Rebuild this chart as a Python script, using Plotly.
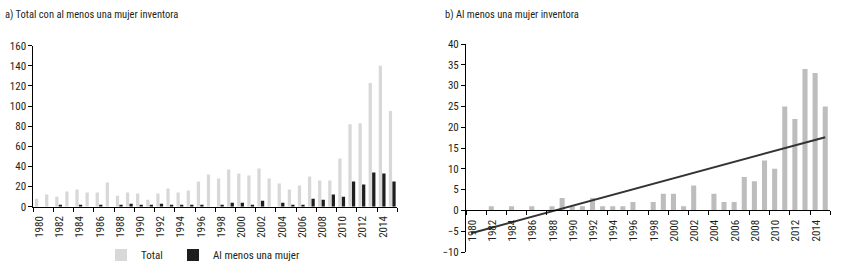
import numpy as np
import plotly.graph_objects as go

years = list(range(1980, 2016))
total = [8, 12, 10, 15, 17, 14, 14, 24, 11, 14, 13, 7, 13, 18, 14, 16, 25, 32,
         28, 37, 33, 31, 38, 28, 23, 17, 21, 30, 26, 26, 48, 82, 83, 123, 140, 95]
mujer = [0, 0, 1, 0, 1, 0, 1, 0, 1, 3, 1, 1, 3, 1, 1, 1, 2, 0,
         2, 4, 4, 1, 6, 0, 4, 2, 2, 8, 7, 12, 10, 25, 22, 34, 33, 25]
tick_years = list(range(1980, 2016, 2))
title_a = "a) Total con al menos una mujer inventora"
title_b = "b) Al menos una mujer inventora"
name_total = "Total"
name_mujer = "Al menos una mujer"

FONT = "Liberation Sans Narrow, Roboto Condensed, DejaVu Sans Condensed, Arial Narrow, sans-serif"
TXT = "#231f20"
W, H = 845, 267

# trend line (least squares) for panel b
coef = np.polyfit(np.arange(len(years)), mujer, 1)
trend = list(np.polyval(coef, np.arange(len(years))))

fig = go.Figure()
fig.add_trace(go.Bar(x=years, y=total, name=name_total, marker_color="#d8d8d8",
                     marker_line_width=0, xaxis="x", yaxis="y", legend="legend"))
fig.add_trace(go.Bar(x=years, y=mujer, name=name_mujer, marker_color="#1e1e1e",
                     marker_line_width=0, xaxis="x", yaxis="y", legend="legend2"))
fig.add_trace(go.Bar(x=years, y=mujer, showlegend=False, marker_color="#bdbdbd",
                     marker_line_width=0, xaxis="x2", yaxis="y2", offsetgroup="b",
                     width=0.5))
fig.add_trace(go.Scatter(x=years, y=trend, mode="lines", showlegend=False,
                         line=dict(color="#333333", width=2), xaxis="x2", yaxis="y2"))

def px_x(p):
    return p / W

def px_y(p):
    return 1 - p / H

bound_vals = [y - 0.5 for y in range(1980, 2017, 2)]
bound_text = [str(v) for v in tick_years] + [""]

common_x = dict(range=[1979.5, 2015.5], tickmode="array", tickvals=bound_vals,
                ticktext=bound_text, tickangle=-90, ticks="outside", ticklen=4,
                tickcolor="#000", showline=True, linecolor="#000", linewidth=1,
                showgrid=False, zeroline=False, ticklabelshift=6, automargin=False,
                tickfont=dict(family=FONT, size=11, color=TXT))
common_y = dict(ticks="outside", ticklen=4, tickcolor="#000", showline=True,
                linecolor="#000", linewidth=1, showgrid=False, zeroline=False,
                automargin=False,
                tickfont=dict(family=FONT, size=11, color=TXT))

yb_lo, yb_hi = px_y(252), px_y(44)
x2_pos = yb_lo + (0 - (-10)) / 50 * (yb_hi - yb_lo)

leg_common = dict(orientation="h", yanchor="middle", xanchor="left",
                  font=dict(family=FONT, size=11, color=TXT),
                  bgcolor="rgba(0,0,0,0)", itemwidth=30)

fig.update_layout(
    width=W, height=H, margin=dict(l=0, r=0, t=0, b=0, autoexpand=False),
    paper_bgcolor="white", plot_bgcolor="white",
    barmode="group", bargap=0.3, bargroupgap=0.08,
    font=dict(family=FONT, size=11, color=TXT),
    xaxis=dict(domain=[px_x(33.3), px_x(397.3)], anchor="y", **common_x),
    yaxis=dict(domain=[px_y(206.7), px_y(45.7)], range=[0, 160], dtick=20,
               anchor="x", **common_y),
    xaxis2=dict(domain=[px_x(466), px_x(830.3)], anchor="free", position=x2_pos,
                **common_x),
    yaxis2=dict(domain=[yb_lo, yb_hi], range=[-10, 40], dtick=5, anchor="x2",
                **common_y),
    legend=dict(x=px_x(101), y=px_y(255), **leg_common),
    legend2=dict(x=px_x(173), y=px_y(255), **leg_common),
    annotations=[
        dict(text=title_a, x=px_x(3), y=px_y(14), xref="paper", yref="paper",
             xanchor="left", yanchor="middle", showarrow=False,
             font=dict(family=FONT, size=10.5, color=TXT)),
        dict(text=title_b, x=px_x(443), y=px_y(14), xref="paper", yref="paper",
             xanchor="left", yanchor="middle", showarrow=False,
             font=dict(family=FONT, size=10.5, color=TXT)),
    ],
)

fig.write_html(
    "out.html",
    config={"displayModeBar": False},
    post_script="document.body.style.margin='0';document.body.style.overflow='hidden';",
)
